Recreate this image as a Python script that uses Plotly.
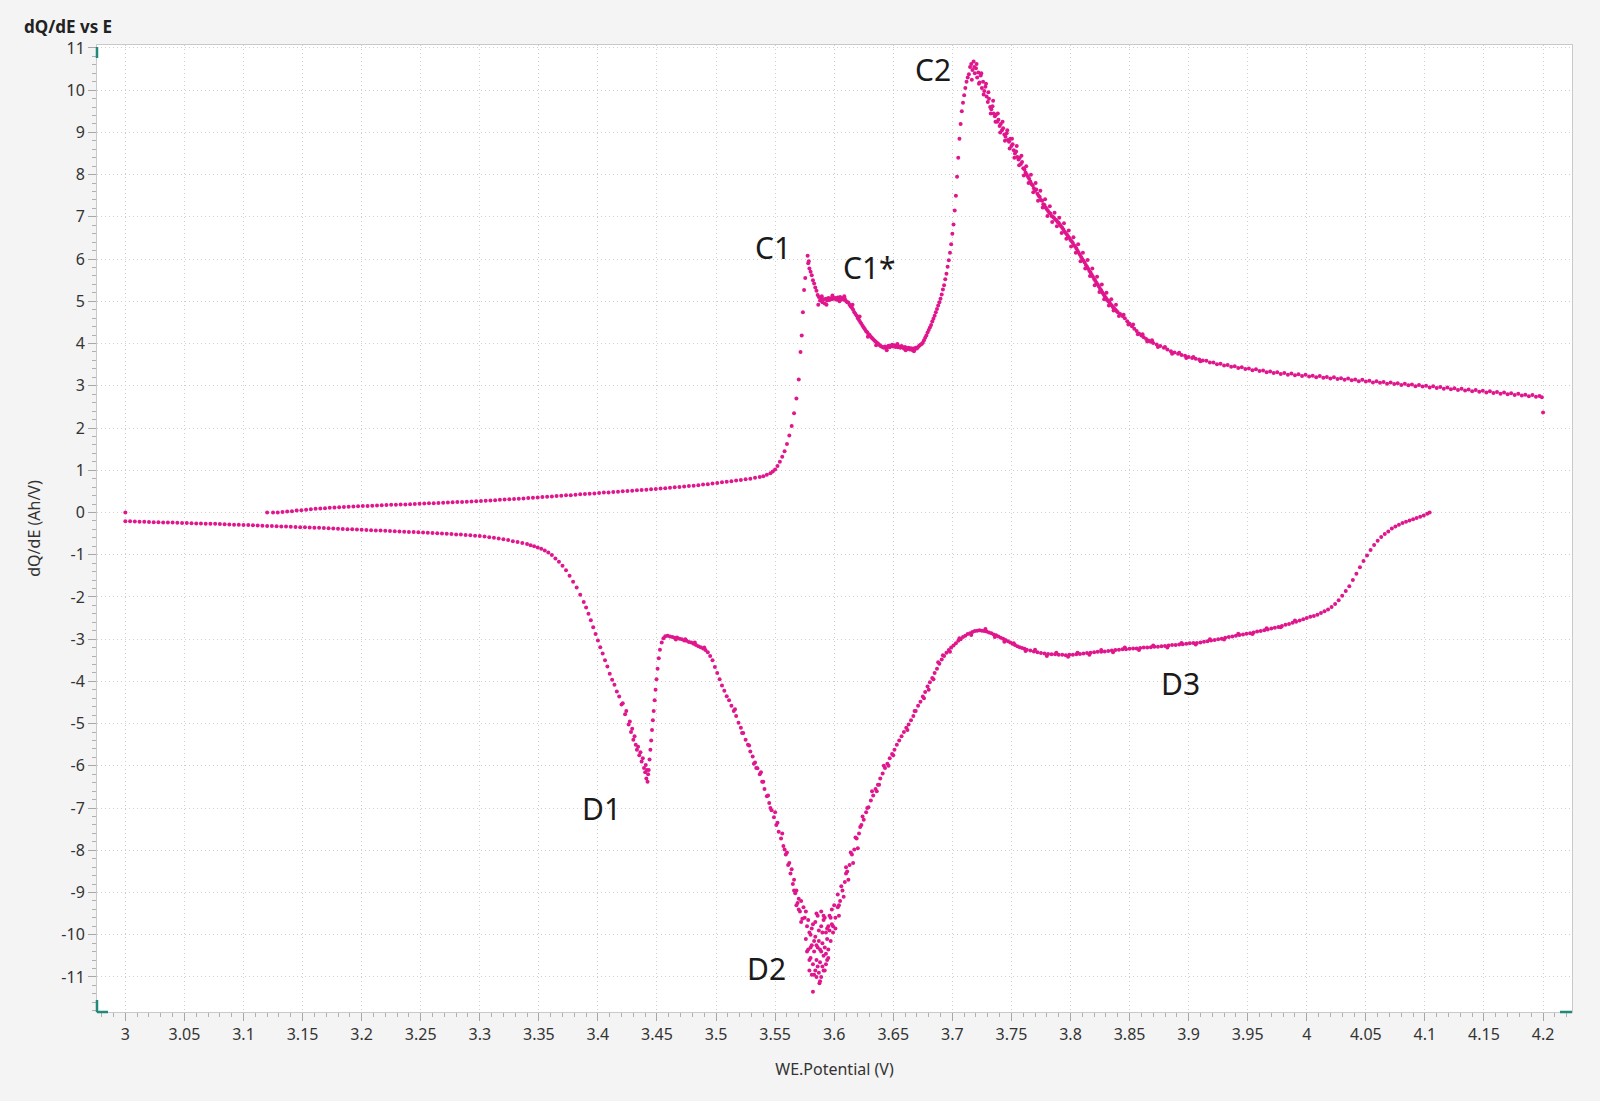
import plotly.graph_objects as go

# ---------------- data ----------------
# Charge branch (upper curve), pairs of (potential V, dQ/dE Ah/V)
charge_onset = [
    (3.120, 0.00), (3.125, 0.00), (3.129, 0.00), (3.133, 0.01), (3.137, 0.02), (3.141, 0.03), (3.145, 0.045),
    (3.149, 0.055), (3.153, 0.065), (3.157, 0.075), (3.161, 0.085), (3.165, 0.095), (3.169, 0.10), (3.173, 0.11),
    (3.177, 0.115), (3.181, 0.125), (3.185, 0.13), (3.189, 0.135), (3.193, 0.14), (3.197, 0.145), (3.201, 0.15),
    (3.205, 0.155), (3.209, 0.16), (3.213, 0.165), (3.217, 0.17), (3.221, 0.175), (3.225, 0.18), (3.229, 0.185),
    (3.233, 0.19), (3.237, 0.19), (3.241, 0.195), (3.245, 0.20), (3.249, 0.205), (3.253, 0.21), (3.257, 0.215),
    (3.261, 0.22), (3.265, 0.225), (3.269, 0.23), (3.273, 0.235), (3.277, 0.24), (3.281, 0.245), (3.285, 0.25),
    (3.289, 0.255), (3.293, 0.26), (3.297, 0.265), (3.301, 0.27), (3.305, 0.28), (3.309, 0.285), (3.313, 0.29),
    (3.317, 0.30), (3.321, 0.305), (3.325, 0.31), (3.329, 0.32), (3.333, 0.325), (3.337, 0.33), (3.341, 0.34),
    (3.345, 0.35), (3.349, 0.355), (3.353, 0.365), (3.357, 0.37), (3.361, 0.38), (3.365, 0.39), (3.369, 0.395),
    (3.373, 0.405), (3.377, 0.41), (3.381, 0.42), (3.385, 0.43), (3.389, 0.435), (3.393, 0.445), (3.397, 0.45),
    (3.401, 0.46), (3.405, 0.47), (3.409, 0.475), (3.413, 0.485), (3.417, 0.49), (3.421, 0.50), (3.425, 0.51),
    (3.429, 0.515), (3.433, 0.525), (3.437, 0.53), (3.441, 0.54), (3.445, 0.55), (3.449, 0.555), (3.453, 0.565),
    (3.457, 0.575), (3.461, 0.585), (3.465, 0.595), (3.469, 0.605), (3.473, 0.615), (3.477, 0.625), (3.481, 0.635),
    (3.485, 0.645), (3.489, 0.66), (3.493, 0.67), (3.497, 0.685), (3.501, 0.70), (3.505, 0.715), (3.509, 0.725),
    (3.513, 0.74), (3.517, 0.755), (3.521, 0.77), (3.525, 0.785), (3.529, 0.80), (3.533, 0.82), (3.537, 0.84),
    (3.540, 0.86), (3.543, 0.89), (3.546, 0.93), (3.548, 0.97), (3.550, 1.02), (3.552, 1.10), (3.554, 1.20),
    (3.556, 1.32), (3.558, 1.45), (3.560, 1.62), (3.562, 1.82), (3.564, 2.05), (3.566, 2.35), (3.568, 2.70),
    (3.570, 3.15), (3.5715, 3.80), (3.5725, 4.19), (3.5735, 4.74), (3.5745, 5.27), (3.5755, 5.55), (3.5775, 6.08),
]

charge_c1 = [
    (3.578, 5.90), (3.5785, 5.95), (3.579, 5.78), (3.580, 5.70), (3.581, 5.62), (3.582, 5.50), (3.583, 5.42),
    (3.584, 5.33), (3.585, 5.25), (3.586, 5.15), (3.587, 5.10), (3.588, 5.02), (3.589, 5.08), (3.590, 4.98),
    (3.591, 5.05), (3.592, 4.95), (3.593, 5.06), (3.594, 5.02), (3.595, 5.08), (3.596, 5.03), (3.597, 5.07),
    (3.598, 5.05), (3.599, 5.09), (3.600, 5.06), (3.601, 5.08), (3.602, 5.04), (3.603, 5.09), (3.604, 5.07),
    (3.605, 5.10), (3.606, 5.05), (3.607, 5.07), (3.608, 5.04), (3.609, 5.06), (3.610, 5.01), (3.611, 4.98),
    (3.612, 4.97), (3.613, 4.92), (3.614, 4.88), (3.615, 4.85), (3.616, 4.80), (3.617, 4.74), (3.618, 4.70),
    (3.619, 4.66), (3.620, 4.60), (3.621, 4.56), (3.622, 4.51), (3.623, 4.47), (3.624, 4.42), (3.625, 4.38),
    (3.626, 4.34), (3.627, 4.29), (3.628, 4.27), (3.629, 4.22), (3.630, 4.20), (3.631, 4.16), (3.632, 4.13),
    (3.633, 4.10), (3.634, 4.07), (3.635, 4.05), (3.636, 4.02), (3.637, 4.00), (3.638, 3.97), (3.639, 3.95),
    (3.640, 3.93), (3.641, 3.92), (3.642, 3.90), (3.643, 3.93), (3.644, 3.89), (3.645, 3.92), (3.646, 3.95),
    (3.647, 3.91), (3.648, 3.94), (3.649, 3.97), (3.650, 3.93), (3.651, 3.96), (3.652, 3.92), (3.653, 3.95),
    (3.654, 3.91), (3.655, 3.93), (3.656, 3.90), (3.657, 3.94), (3.658, 3.91), (3.659, 3.88), (3.660, 3.92),
    (3.661, 3.89), (3.662, 3.87), (3.663, 3.90), (3.664, 3.86), (3.665, 3.89), (3.666, 3.85), (3.667, 3.88),
    (3.668, 3.86), (3.669, 3.90), (3.670, 3.88), (3.671, 3.92), (3.672, 3.95), (3.673, 3.97), (3.674, 3.99),
    (3.675, 4.02), (3.676, 4.08), (3.677, 4.14), (3.678, 4.19), (3.679, 4.26), (3.680, 4.32), (3.681, 4.38),
    (3.682, 4.44), (3.683, 4.52), (3.684, 4.59), (3.685, 4.66), (3.686, 4.74), (3.687, 4.82), (3.688, 4.90),
    (3.689, 4.98), (3.690, 5.06), (3.691, 5.16), (3.692, 5.28), (3.693, 5.38), (3.694, 5.52), (3.695, 5.65),
    (3.696, 5.82), (3.697, 5.97), (3.698, 6.15), (3.699, 6.35), (3.700, 6.60),
    # scatter around the C1 / C1* shoulder
    (3.5865, 4.92), (3.5895, 5.12), (3.5935, 4.92), (3.5985, 5.14), (3.6045, 5.00), (3.6085, 5.12),
    (3.6155, 4.92), (3.6215, 4.64), (3.6285, 4.16), (3.6355, 3.96), (3.6445, 3.84), (3.6535, 3.99),
    (3.6605, 3.84), (3.6675, 3.82),
]

charge_c2 = [
    (3.701, 6.82), (3.702, 7.15), (3.703, 7.50), (3.704, 7.95), (3.705, 8.40), (3.706, 8.85), (3.707, 9.20),
    (3.708, 9.50), (3.709, 9.70), (3.710, 9.88), (3.711, 10.05), (3.712, 10.20), (3.713, 10.30), (3.714, 10.38),
    (3.715, 10.55), (3.716, 10.62), (3.717, 10.48), (3.718, 10.68), (3.719, 10.40), (3.720, 10.52), (3.721, 10.30),
    (3.722, 10.42), (3.723, 10.18), (3.724, 10.35), (3.725, 10.05), (3.726, 10.20), (3.727, 9.98), (3.728, 10.08),
    (3.729, 9.85), (3.730, 9.72), (3.731, 9.80), (3.732, 9.60), (3.733, 9.55), (3.734, 9.62), (3.735, 9.45),
    (3.736, 9.38), (3.737, 9.42), (3.738, 9.25), (3.739, 9.30), (3.740, 9.15), (3.741, 9.20), (3.742, 9.05),
    (3.743, 9.10), (3.744, 8.95), (3.745, 8.90), (3.746, 8.98), (3.747, 8.82), (3.748, 8.78), (3.749, 8.85),
    (3.750, 8.68), (3.751, 8.72), (3.752, 8.58), (3.753, 8.50), (3.754, 8.55), (3.755, 8.42), (3.756, 8.36),
    (3.757, 8.40), (3.758, 8.25), (3.759, 8.30), (3.760, 8.15), (3.761, 8.12), (3.762, 8.05), (3.763, 8.00),
    (3.764, 7.95), (3.765, 7.90), (3.766, 7.84), (3.767, 7.78), (3.768, 7.75), (3.769, 7.68), (3.770, 7.62),
    (3.771, 7.65), (3.772, 7.55), (3.773, 7.50), (3.774, 7.47), (3.775, 7.40), (3.776, 7.38), (3.777, 7.30),
    (3.778, 7.28), (3.779, 7.22), (3.780, 7.18), (3.781, 7.14), (3.782, 7.10), (3.783, 7.08), (3.784, 7.02),
    (3.785, 7.00), (3.786, 6.98), (3.787, 6.94), (3.788, 6.92), (3.789, 6.88), (3.790, 6.86), (3.791, 6.82),
    (3.792, 6.78), (3.793, 6.74), (3.794, 6.70), (3.795, 6.65), (3.796, 6.62), (3.797, 6.58), (3.798, 6.54),
    (3.799, 6.50), (3.800, 6.45), (3.801, 6.42), (3.802, 6.38), (3.803, 6.33), (3.804, 6.30), (3.805, 6.25),
    (3.806, 6.20), (3.807, 6.15), (3.808, 6.10), (3.809, 6.05), (3.810, 6.00), (3.811, 5.96), (3.812, 5.92),
    (3.813, 5.86), (3.814, 5.82), (3.815, 5.77), (3.816, 5.72), (3.817, 5.68), (3.818, 5.63), (3.819, 5.58),
    (3.820, 5.53), (3.821, 5.49), (3.822, 5.44), (3.823, 5.40), (3.824, 5.35), (3.825, 5.30), (3.826, 5.26),
    (3.827, 5.21), (3.828, 5.17), (3.829, 5.12), (3.830, 5.08), (3.831, 5.04), (3.832, 5.00), (3.833, 4.97),
    (3.834, 4.93), (3.835, 4.90), (3.836, 4.86), (3.837, 4.83), (3.838, 4.80), (3.839, 4.77), (3.840, 4.74),
    (3.842, 4.70), (3.844, 4.65), (3.846, 4.60), (3.848, 4.53), (3.850, 4.47), (3.852, 4.41), (3.854, 4.35),
    (3.856, 4.30), (3.858, 4.24), (3.860, 4.19), (3.862, 4.15), (3.864, 4.11), (3.866, 4.07), (3.868, 4.04),
    (3.870, 4.01), (3.873, 3.98), (3.876, 3.94), (3.879, 3.90), (3.882, 3.86), (3.885, 3.82), (3.888, 3.79),
    (3.891, 3.76), (3.894, 3.73), (3.897, 3.71), (3.900, 3.68), (3.903, 3.66), (3.906, 3.64), (3.909, 3.62),
    (3.912, 3.60),
    # scatter around the C2 decay band
    (3.7165, 10.25), (3.7185, 10.55), (3.7205, 10.62), (3.7225, 10.15), (3.7245, 10.40), (3.7265, 9.90),
    (3.7285, 10.15), (3.7305, 9.95), (3.7325, 9.45), (3.7345, 9.75), (3.7365, 9.25), (3.7385, 9.45),
    (3.7405, 9.00), (3.7425, 9.25), (3.7445, 8.80), (3.7465, 9.05), (3.7485, 8.62), (3.7505, 8.85),
    (3.7525, 8.40), (3.7545, 8.68), (3.7565, 8.22), (3.7585, 8.45), (3.7605, 7.98), (3.7625, 8.20),
    (3.7645, 7.80), (3.7665, 8.00), (3.7685, 7.58), (3.7705, 7.80), (3.7725, 7.38), (3.7745, 7.62),
    (3.7765, 7.22), (3.7785, 7.42), (3.7805, 7.02), (3.7825, 7.25), (3.7845, 6.88), (3.7865, 7.10),
    (3.7885, 6.78), (3.7905, 6.98), (3.7925, 6.62), (3.7945, 6.85), (3.7965, 6.48), (3.7985, 6.68),
    (3.8005, 6.30), (3.8025, 6.52), (3.8045, 6.15), (3.8065, 6.35), (3.8085, 5.95), (3.8105, 6.15),
    (3.8125, 5.78), (3.8145, 5.98), (3.8165, 5.60), (3.8185, 5.78), (3.8205, 5.38), (3.8225, 5.58),
    (3.8245, 5.22), (3.8265, 5.40), (3.8285, 5.05), (3.8305, 5.20), (3.8325, 4.90), (3.8345, 5.05),
    (3.8365, 4.78), (3.8385, 4.92), (3.841, 4.65), (3.845, 4.68), (3.849, 4.45), (3.853, 4.45),
    (3.857, 4.22), (3.861, 4.22), (3.865, 4.05), (3.869, 4.08), (3.874, 3.92), (3.880, 3.92),
    (3.886, 3.76), (3.892, 3.78), (3.898, 3.66), (3.904, 3.68), (3.910, 3.58),
]

charge_tail = [
    (3.915, 3.59), (3.918, 3.55), (3.921, 3.55), (3.924, 3.51), (3.927, 3.52), (3.930, 3.48), (3.933, 3.49),
    (3.936, 3.45), (3.939, 3.46), (3.942, 3.42), (3.945, 3.44), (3.948, 3.40), (3.951, 3.41), (3.954, 3.37),
    (3.957, 3.39), (3.960, 3.35), (3.963, 3.36), (3.966, 3.32), (3.969, 3.34), (3.972, 3.30), (3.975, 3.32),
    (3.978, 3.28), (3.981, 3.30), (3.984, 3.26), (3.987, 3.29), (3.990, 3.25), (3.993, 3.27), (3.996, 3.23),
    (3.999, 3.26), (4.002, 3.22), (4.005, 3.24), (4.008, 3.20), (4.011, 3.23), (4.014, 3.19), (4.017, 3.21),
    (4.020, 3.17), (4.023, 3.20), (4.026, 3.16), (4.029, 3.18), (4.032, 3.14), (4.035, 3.17), (4.038, 3.13),
    (4.041, 3.15), (4.044, 3.11), (4.047, 3.14), (4.050, 3.10), (4.053, 3.12), (4.056, 3.08), (4.059, 3.11),
    (4.062, 3.07), (4.065, 3.09), (4.068, 3.05), (4.071, 3.08), (4.074, 3.04), (4.077, 3.06), (4.080, 3.02),
    (4.083, 3.05), (4.086, 3.01), (4.089, 3.03), (4.092, 2.99), (4.095, 3.02), (4.098, 2.98), (4.101, 3.00),
    (4.104, 2.96), (4.107, 2.99), (4.110, 2.95), (4.113, 2.97), (4.116, 2.93), (4.119, 2.96), (4.122, 2.92),
    (4.125, 2.94), (4.128, 2.90), (4.131, 2.93), (4.134, 2.89), (4.137, 2.91), (4.140, 2.87), (4.143, 2.90),
    (4.146, 2.86), (4.149, 2.88), (4.152, 2.84), (4.155, 2.87), (4.158, 2.83), (4.161, 2.85), (4.164, 2.81),
    (4.167, 2.84), (4.170, 2.80), (4.173, 2.82), (4.176, 2.78), (4.179, 2.81), (4.182, 2.77), (4.185, 2.79),
    (4.188, 2.75), (4.191, 2.78), (4.194, 2.74), (4.197, 2.76), (4.199, 2.73), (4.200, 2.37),
]

# Discharge branch (lower curve)
discharge_onset = [
    (3.000, 0.00), (3.000, -0.21), (3.004, -0.21), (3.008, -0.215), (3.012, -0.22), (3.016, -0.22), (3.020, -0.225),
    (3.024, -0.23), (3.028, -0.23), (3.032, -0.235), (3.036, -0.24), (3.040, -0.24), (3.044, -0.245), (3.048, -0.25),
    (3.052, -0.25), (3.056, -0.255), (3.060, -0.26), (3.064, -0.26), (3.068, -0.265), (3.072, -0.27), (3.076, -0.27),
    (3.080, -0.275), (3.084, -0.28), (3.088, -0.285), (3.092, -0.29), (3.096, -0.29), (3.100, -0.30), (3.104, -0.30),
    (3.108, -0.305), (3.112, -0.31), (3.116, -0.315), (3.120, -0.32), (3.124, -0.32), (3.128, -0.325), (3.132, -0.33),
    (3.136, -0.335), (3.140, -0.34), (3.144, -0.345), (3.148, -0.35), (3.152, -0.35), (3.156, -0.355), (3.160, -0.36),
    (3.164, -0.365), (3.168, -0.37), (3.172, -0.375), (3.176, -0.38), (3.180, -0.385), (3.184, -0.39), (3.188, -0.395),
    (3.192, -0.40), (3.196, -0.405), (3.200, -0.41), (3.204, -0.415), (3.208, -0.42), (3.212, -0.425), (3.216, -0.43),
    (3.220, -0.435), (3.224, -0.44), (3.228, -0.445), (3.232, -0.45), (3.236, -0.455), (3.240, -0.46), (3.244, -0.465),
    (3.248, -0.47), (3.252, -0.475), (3.256, -0.48), (3.260, -0.485), (3.264, -0.49), (3.268, -0.50), (3.272, -0.505),
    (3.276, -0.51), (3.280, -0.52), (3.284, -0.525), (3.288, -0.535), (3.292, -0.54), (3.296, -0.55), (3.300, -0.56),
    (3.304, -0.57), (3.308, -0.585), (3.312, -0.60), (3.316, -0.615), (3.320, -0.635), (3.324, -0.655), (3.328, -0.68),
    (3.332, -0.70), (3.336, -0.725), (3.340, -0.75), (3.343, -0.775), (3.346, -0.80), (3.349, -0.83), (3.352, -0.86),
    (3.355, -0.90), (3.358, -0.95), (3.361, -1.01), (3.364, -1.09), (3.367, -1.17), (3.370, -1.26), (3.373, -1.37),
    (3.376, -1.50), (3.379, -1.64), (3.382, -1.78), (3.385, -1.95), (3.388, -2.12), (3.390, -2.25), (3.392, -2.40),
    (3.394, -2.55), (3.396, -2.72), (3.398, -2.88), (3.400, -3.03), (3.402, -3.19), (3.404, -3.34), (3.406, -3.50),
    (3.408, -3.65), (3.410, -3.82), (3.412, -3.96), (3.414, -4.08), (3.416, -4.24), (3.418, -4.36), (3.420, -4.55),
    (3.421, -4.52), (3.423, -4.78), (3.424, -4.70), (3.426, -5.02), (3.427, -4.95), (3.428, -5.20), (3.429, -5.12),
    (3.430, -5.38), (3.431, -5.30), (3.432, -5.50), (3.433, -5.62), (3.434, -5.55), (3.435, -5.75), (3.436, -5.68),
    (3.437, -5.90), (3.438, -5.82), (3.439, -6.05), (3.440, -6.15), (3.4405, -5.98), (3.441, -6.30), (3.4415, -6.10),
    (3.442, -6.38),
]

discharge_d1_d2 = [
    (3.4425, -6.20), (3.443, -6.10), (3.4437, -5.85), (3.4444, -5.62), (3.4451, -5.40), (3.4458, -5.15),
    (3.4465, -4.92), (3.4472, -4.70), (3.448, -4.45), (3.4488, -4.20), (3.4496, -3.95), (3.4505, -3.70),
    (3.4515, -3.45), (3.4525, -3.25), (3.454, -3.08), (3.4555, -2.98), (3.457, -2.93), (3.459, -2.92),
    (3.461, -2.94), (3.463, -2.95), (3.465, -2.97), (3.467, -2.96), (3.469, -2.99), (3.471, -3.00), (3.473, -3.03),
    (3.475, -3.04), (3.477, -3.07), (3.479, -3.08), (3.481, -3.11), (3.483, -3.14), (3.485, -3.17), (3.487, -3.19),
    (3.489, -3.22), (3.491, -3.26), (3.493, -3.31), (3.495, -3.40), (3.497, -3.50), (3.499, -3.66), (3.501, -3.80),
    (3.503, -3.95), (3.505, -4.10), (3.507, -4.22), (3.509, -4.35), (3.511, -4.45), (3.513, -4.58), (3.515, -4.70),
    (3.517, -4.82), (3.519, -4.98), (3.521, -5.10), (3.523, -5.22), (3.525, -5.38), (3.527, -5.50), (3.529, -5.66),
    (3.531, -5.78), (3.533, -5.92), (3.535, -6.06), (3.537, -6.20), (3.539, -6.38), (3.541, -6.55), (3.543, -6.72),
    (3.545, -6.88), (3.547, -7.05), (3.549, -7.22), (3.551, -7.40), (3.553, -7.56), (3.555, -7.72), (3.557, -7.90),
    (3.559, -8.10), (3.561, -8.35), (3.563, -8.55), (3.565, -8.80), (3.567, -9.02), (3.569, -9.25), (3.571, -9.45),
    (3.573, -9.62), (3.516, -4.66), (3.522, -5.22), (3.528, -5.52), (3.534, -6.05), (3.540, -6.38), (3.546, -7.00),
    (3.552, -7.35), (3.558, -7.98), (3.562, -8.30), (3.566, -8.70), (3.570, -9.40), (3.572, -9.20),
    (3.556, -7.60), (3.560, -8.05), (3.564, -8.45), (3.568, -8.95), (3.550, -7.10), (3.544, -6.70),
    (3.538, -6.15), (3.532, -5.95), (3.466, -3.01), (3.474, -3.00), (3.482, -3.08), (3.490, -3.20),
]

discharge_d2 = [
    (3.575, -9.60), (3.576, -10.10), (3.577, -9.80), (3.578, -10.35), (3.579, -9.95), (3.580, -10.55),
    (3.580, -10.00), (3.581, -10.25), (3.582, -10.70), (3.582, -9.75), (3.583, -10.40), (3.584, -10.85),
    (3.584, -10.05), (3.585, -10.60), (3.586, -10.30), (3.586, -9.55), (3.587, -10.90), (3.587, -10.15),
    (3.588, -10.65), (3.588, -11.10), (3.589, -10.40), (3.589, -9.80), (3.590, -10.75), (3.590, -10.20),
    (3.591, -10.50), (3.591, -9.65), (3.592, -10.30), (3.592, -10.85), (3.593, -9.95), (3.593, -10.45),
    (3.594, -10.10), (3.595, -9.80), (3.595, -10.35), (3.596, -9.90), (3.597, -9.60), (3.598, -9.75),
    (3.582, -11.35), (3.5875, -11.15), (3.585, -9.50), (3.589, -9.45), (3.591, -9.55), (3.579, -10.60),
    (3.583, -10.95), (3.594, -10.60),
    (3.566, -8.95), (3.568, -9.30), (3.570, -9.15), (3.572, -9.70), (3.574, -9.35), (3.576, -9.45),
    (3.577, -10.40), (3.578, -9.65), (3.579, -10.85), (3.580, -10.30), (3.581, -9.85), (3.581, -10.95),
    (3.583, -10.15), (3.584, -9.70), (3.585, -11.00), (3.585, -10.25), (3.586, -10.75), (3.587, -9.90),
    (3.588, -10.35), (3.589, -11.00), (3.590, -9.95), (3.591, -10.85), (3.592, -9.60), (3.593, -10.70),
    (3.594, -9.85), (3.595, -10.55), (3.596, -9.55), (3.597, -10.15), (3.598, -9.40), (3.599, -9.95),
    (3.600, -9.30), (3.601, -9.85), (3.603, -9.05), (3.604, -9.55), (3.606, -8.85), (3.608, -9.10),
    (3.610, -8.40), (3.612, -8.70), (3.614, -8.05), (3.616, -8.30), (3.618, -7.70), (3.620, -7.95),
    (3.624, -7.20), (3.628, -7.00), (3.632, -6.60), (3.638, -6.45), (3.642, -6.00), (3.646, -6.00),
]

discharge_d3 = [
    (3.599, -9.80), (3.601, -9.60), (3.603, -9.35), (3.605, -9.20), (3.607, -8.95), (3.609, -8.75), (3.611, -8.50),
    (3.613, -8.35), (3.615, -8.10), (3.617, -7.98), (3.619, -7.72), (3.621, -7.60), (3.623, -7.40), (3.625, -7.28),
    (3.627, -7.10), (3.629, -6.98), (3.631, -6.82), (3.633, -6.70), (3.635, -6.55), (3.637, -6.45), (3.639, -6.30),
    (3.641, -6.18), (3.643, -6.05), (3.645, -5.95), (3.647, -5.82), (3.649, -5.72), (3.651, -5.62), (3.653, -5.50),
    (3.655, -5.40), (3.657, -5.30), (3.659, -5.20), (3.661, -5.10), (3.663, -5.02), (3.665, -4.92), (3.667, -4.82),
    (3.669, -4.70), (3.671, -4.58), (3.673, -4.48), (3.675, -4.36), (3.677, -4.25), (3.679, -4.12), (3.681, -4.02),
    (3.683, -3.92), (3.685, -3.80), (3.687, -3.70), (3.689, -3.58), (3.691, -3.48), (3.693, -3.40), (3.695, -3.32),
    (3.697, -3.26), (3.699, -3.20), (3.701, -3.15), (3.703, -3.10), (3.705, -3.04), (3.707, -3.00), (3.709, -2.95),
    (3.711, -2.92), (3.713, -2.88), (3.715, -2.86), (3.717, -2.83), (3.719, -2.81), (3.721, -2.80), (3.723, -2.79),
    (3.725, -2.80), (3.727, -2.81), (3.729, -2.82), (3.731, -2.84), (3.733, -2.86), (3.735, -2.89), (3.737, -2.91),
    (3.739, -2.94), (3.741, -2.97), (3.743, -2.99), (3.745, -3.02), (3.747, -3.05), (3.749, -3.08), (3.751, -3.11),
    (3.753, -3.14), (3.755, -3.17), (3.757, -3.19), (3.759, -3.21), (3.761, -3.23), (3.763, -3.25), (3.766, -3.27),
    (3.769, -3.29), (3.772, -3.31), (3.775, -3.33), (3.778, -3.34), (3.781, -3.35), (3.784, -3.36), (3.787, -3.36),
    (3.790, -3.37), (3.793, -3.37), (3.796, -3.38), (3.799, -3.37), (3.802, -3.37), (3.805, -3.36), (3.808, -3.35),
    (3.811, -3.34), (3.814, -3.33), (3.817, -3.32), (3.820, -3.31), (3.823, -3.30), (3.826, -3.30), (3.829, -3.29),
    (3.832, -3.28), (3.835, -3.27), (3.838, -3.26), (3.841, -3.25), (3.844, -3.24), (3.847, -3.24), (3.850, -3.23),
    (3.853, -3.22), (3.856, -3.22), (3.859, -3.21), (3.862, -3.20), (3.865, -3.20), (3.868, -3.19), (3.871, -3.18),
    (3.874, -3.18), (3.877, -3.17), (3.880, -3.16), (3.883, -3.15), (3.886, -3.14), (3.889, -3.14), (3.892, -3.13),
    (3.895, -3.12), (3.898, -3.11), (3.901, -3.10), (3.904, -3.09), (3.907, -3.09), (3.910, -3.08), (3.913, -3.06),
    (3.916, -3.05), (3.919, -3.03), (3.922, -3.02), (3.925, -3.00), (3.928, -2.99), (3.931, -2.97), (3.934, -2.95),
    (3.937, -2.94), (3.940, -2.92), (3.943, -2.90), (3.946, -2.89), (3.949, -2.87), (3.952, -2.86), (3.955, -2.84),
    (3.958, -2.82), (3.961, -2.81), (3.964, -2.79), (3.967, -2.77), (3.970, -2.75), (3.973, -2.73), (3.976, -2.71),
    (3.979, -2.69), (3.982, -2.66), (3.985, -2.64), (3.988, -2.61), (3.991, -2.59), (3.994, -2.56), (3.997, -2.53),
    (4.000, -2.50), (4.003, -2.47), (4.006, -2.45), (4.009, -2.42), (4.012, -2.38), (4.015, -2.34), (4.018, -2.30),
    (4.021, -2.24), (4.024, -2.17), (4.027, -2.08), (4.030, -1.97), (4.033, -1.86), (4.036, -1.75), (4.039, -1.60),
    (4.042, -1.45), (4.045, -1.30), (4.048, -1.15), (4.051, -1.02), (4.054, -0.89), (4.057, -0.77), (4.060, -0.67),
    (4.063, -0.58), (4.066, -0.51), (4.069, -0.45), (4.072, -0.38), (4.075, -0.33), (4.078, -0.29), (4.081, -0.25),
    (4.084, -0.22), (4.087, -0.19), (4.090, -0.16), (4.093, -0.13), (4.096, -0.10), (4.099, -0.07), (4.102, -0.03),
    (4.104, 0.00),
    # scatter around the D3 band
    (3.728, -2.76), (3.736, -2.95), (3.744, -3.06), (3.752, -3.10), (3.762, -3.28), (3.770, -3.25),
    (3.780, -3.40), (3.788, -3.32), (3.798, -3.42), (3.806, -3.32), (3.816, -3.37), (3.826, -3.26),
    (3.836, -3.31), (3.846, -3.20), (3.858, -3.26), (3.870, -3.15), (3.882, -3.20), (3.894, -3.09),
    (3.906, -3.13), (3.918, -3.00), (3.930, -3.01), (3.942, -2.87), (3.954, -2.88), (3.966, -2.74),
    (3.978, -2.72), (3.990, -2.56), (3.676, -4.40), (3.684, -3.95), (3.692, -3.38), (3.662, -5.15),
    (3.650, -5.75), (3.636, -6.60), (3.622, -7.45), (3.610, -8.55), (3.604, -9.30),
    (3.668, -4.70), (3.680, -4.20), (3.688, -3.55), (3.698, -3.30), (3.706, -2.98), (3.716, -2.90),
]

# Axis tick values / labels
x_tick_vals = [3.0, 3.05, 3.1, 3.15, 3.2, 3.25, 3.3, 3.35, 3.4, 3.45, 3.5, 3.55, 3.6, 3.65, 3.7, 3.75, 3.8,
               3.85, 3.9, 3.95, 4.0, 4.05, 4.1, 4.15, 4.2]
x_tick_text = ["3", "3.05", "3.1", "3.15", "3.2", "3.25", "3.3", "3.35", "3.4", "3.45", "3.5", "3.55", "3.6",
               "3.65", "3.7", "3.75", "3.8", "3.85", "3.9", "3.95", "4", "4.05", "4.1", "4.15", "4.2"]
y_tick_vals = [-11, -10, -9, -8, -7, -6, -5, -4, -3, -2, -1, 0, 1, 2, 3, 4, 5, 6, 7, 8, 9, 10, 11]
y_tick_text = ["-11", "-10", "-9", "-8", "-7", "-6", "-5", "-4", "-3", "-2", "-1", "0", "1", "2", "3", "4",
               "5", "6", "7", "8", "9", "10", "11"]

# Peak labels
peak_names = ["C1", "C1*", "C2", "D1", "D2", "D3"]
peak_v = [3.548, 3.630, 3.684, 3.403, 3.543, 3.893]
peak_q = [6.27, 5.79, 10.49, -7.00, -10.79, -4.04]

# ---------------- figure ----------------
charge = charge_onset + charge_c1 + charge_c2 + charge_tail
discharge = discharge_onset + discharge_d1_d2 + discharge_d2 + discharge_d3

DOT = "#e0168c"
FONT = "Noto Sans, Open Sans, sans-serif"

fig = go.Figure()
for name, pts in (("Charge", charge), ("Discharge", discharge)):
    fig.add_trace(go.Scatter(
        x=[p[0] for p in pts], y=[p[1] for p in pts], mode="markers", name=name,
        marker=dict(color=DOT, size=4, line=dict(width=0)),
        hovertemplate="E=%{x:.3f} V<br>dQ/dE=%{y:.2f} Ah/V<extra></extra>",
    ))

for n, v, q in zip(peak_names, peak_v, peak_q):
    fig.add_annotation(x=v, y=q, text=n, showarrow=False, xanchor="center", yanchor="middle",
                       font=dict(family=FONT, size=30, color="#1a1a1a"))

axis_common = dict(
    showline=True, linecolor="#c9c9c9", linewidth=1, mirror=True,
    showgrid=True, gridcolor="#cfcfcf", gridwidth=1, griddash="1px,3px",
    zeroline=False, ticks="outside", ticklen=8, tickcolor="#a8a8a8", tickwidth=1,
    tickfont=dict(family=FONT, size=16, color="#333333"),
    automargin=False,
)

fig.update_layout(
    width=1600, height=1101,
    paper_bgcolor="#f4f4f4", plot_bgcolor="#ffffff",
    margin=dict(l=97, r=28, t=45, b=89),
    showlegend=False,
    font=dict(family=FONT, size=16, color="#333333"),
    title=dict(text="<b>dQ/dE vs E</b>", xref="container", yref="container",
               x=24 / 1600, y=1 - 27 / 1101, xanchor="left", yanchor="middle",
               font=dict(family=FONT, size=17, color="#222222")),
    xaxis=dict(
        range=[2.976, 4.2245], tickmode="array", tickvals=x_tick_vals, ticktext=x_tick_text,
        title=dict(text="WE.Potential (V)", standoff=19, font=dict(family=FONT, size=16, color="#333333")),
        minor=dict(tickmode="linear", tick0=3.0, dtick=0.01, ticks="outside", ticklen=4,
                   tickcolor="#b0b0b0", showgrid=False),
        **axis_common,
    ),
    yaxis=dict(
        range=[-11.83, 11.07], tickmode="array", tickvals=y_tick_vals, ticktext=y_tick_text,
        title=dict(text="dQ/dE (Ah/V)", standoff=16, font=dict(family=FONT, size=16, color="#333333")),
        minor=dict(tickmode="linear", tick0=0, dtick=0.2, ticks="outside", ticklen=4,
                   tickcolor="#b0b0b0", showgrid=False),
        **axis_common,
    ),
)

# small teal axis-handle marks at the plot corners
TEAL = "#1f8a78"
W, H = 1475.0, 967.0
for x0, y0, x1, y1 in [
    (0, 0, 0, 12 / H), (0, 0, 11 / W, 0),          # bottom-left corner
    (0, 1 - 2 / H, 0, 1 - 13 / H),                  # top-left
    (1 - 12 / W, 0, 1, 0),                          # bottom-right
]:
    fig.add_shape(type="line", xref="paper", yref="paper", x0=x0, y0=y0, x1=x1, y1=y1,
                  line=dict(color=TEAL, width=2.5))

fig.write_html("out.html", config={"displayModeBar": False},
               post_script="document.body.style.margin='0';")
